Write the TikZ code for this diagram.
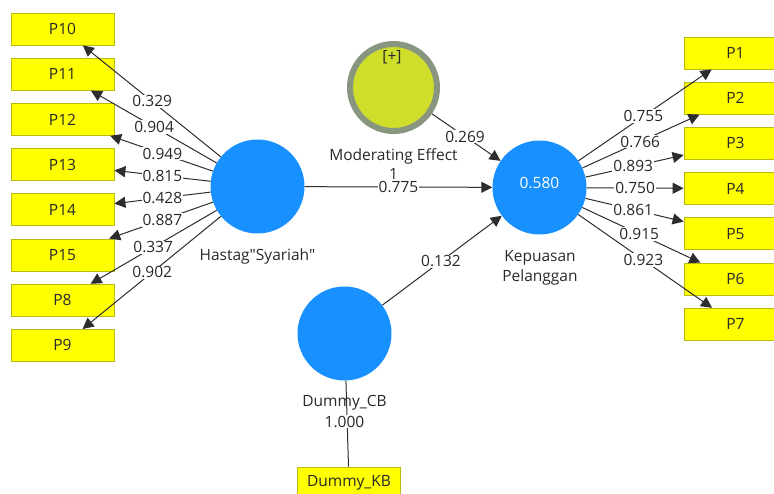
\documentclass[tikz,border=0pt]{standalone}
\usepackage{fontspec}
\setmainfont{Open Sans}[Ligatures=TeXOff]
\usetikzlibrary{arrows.meta,calc}
\definecolor{boxyellow}{RGB}{255,255,0}
\definecolor{boxborder}{RGB}{185,185,20}
\definecolor{lvblue}{RGB}{24,144,255}
\definecolor{modfill}{RGB}{206,222,43}
\definecolor{modring}{RGB}{136,150,128}
\definecolor{txt}{RGB}{40,40,40}
\definecolor{edgecol}{RGB}{45,45,45}
\begin{document}
\begin{tikzpicture}[x=1pt,y=-1pt,
  font=\fontsize{15.5}{20}\selectfont,
  ind/.style={rectangle, draw=boxborder, fill=boxyellow, line width=0.8pt,
    minimum width=103pt, minimum height=32pt, inner sep=0pt, text=txt},
  lv/.style={circle, fill=lvblue, minimum size=94pt, inner sep=0pt},
  modlv/.style={circle, fill=modfill, draw=modring, line width=6pt,
    minimum size=87pt, inner sep=0pt},
  arr/.style={draw=edgecol, line width=1pt, -{Triangle[length=11pt,width=11pt]}},
  plainline/.style={draw=edgecol, line width=1pt},
  lbl/.style={fill=white, inner sep=1pt, text=txt},
  captxt/.style={text=txt, align=center, inner sep=0pt}]
\useasboundingbox (0,0) rectangle (774,493);
\clip (0,0) rectangle (774,493);

% latent variables
\node[lv] (has) at (257.5,186.5) {};
\node[lv] (kep) at (539.5,187.5) {};
\node[lv] (dcb) at (344.5,333.5) {};
\node[modlv] (mod) at (393.5,87.5) {};

% left indicators
\node[ind] (p10) at (62.5,29) {P10};
\node[ind] (p11) at (62.5,74.2) {P11};
\node[ind] (p12) at (62.5,119.4) {P12};
\node[ind] (p13) at (62.5,164.6) {P13};
\node[ind] (p14) at (62.5,209.8) {P14};
\node[ind] (p15) at (62.5,255) {P15};
\node[ind] (p8) at (62.5,300.2) {P8};
\node[ind] (p9) at (62.5,345.4) {P9};

% right indicators
\node[ind] (p1) at (735.5,53) {P1};
\node[ind] (p2) at (735.5,98.2) {P2};
\node[ind] (p3) at (735.5,143.4) {P3};
\node[ind] (p4) at (735.5,188.6) {P4};
\node[ind] (p5) at (735.5,233.8) {P5};
\node[ind] (p6) at (735.5,279) {P6};
\node[ind] (p7) at (735.5,324.2) {P7};

% dummy indicator
\node[ind] (dkb) at (349,483) {Dummy\_KB};

% edges
\foreach \t in {p10,p11,p12,p13,p14,p15,p8,p9} \draw[arr] (has) -- (\t);
\foreach \t in {p1,p2,p3,p4,p5,p6,p7} \draw[arr] (kep) -- (\t);
\draw[arr] (has) -- (kep);
\draw[arr] (mod) -- (kep);
\draw[arr] (dcb) -- (kep);
\draw[plainline] (dcb) -- (dkb);

% edge labels
\node[lbl] at ($(has)!0.54!(p10)$) {0.329};
\node[lbl] at ($(has)!0.53!(p11)$) {0.904};
\node[lbl] at ($(has)!0.488!(p12)$) {0.949};
\node[lbl] at ($(has)!0.488!(p13)$) {0.815};
\node[lbl] at ($(has)!0.488!(p14)$) {0.428};
\node[lbl] at ($(has)!0.488!(p15)$) {0.887};
\node[lbl] at ($(has)!0.535!(p8)$) {0.337};
\node[lbl] at ($(has)!0.54!(p9)$) {0.902};

\node[lbl] at ($(kep)!0.53!(p1)$) {0.755};
\node[lbl] at ($(kep)!0.514!(p2)$) {0.766};
\node[lbl] at ($(kep)!0.478!(p3)$) {0.893};
\node[lbl] at ($(kep)!0.488!(p4)$) {0.750};
\node[lbl] at ($(kep)!0.478!(p5)$) {0.861};
\node[lbl] at ($(kep)!0.509!(p6)$) {0.915};
\node[lbl] at ($(kep)!0.53!(p7)$) {0.923};

\node[lbl] at ($(has)!0.5!(kep)$) {0.775};
\node[lbl] at ($(mod)!0.49!(kep)$) {0.269};
\node[lbl] at ($(dcb)!0.495!(kep)$) {0.132};

% captions
\node[text=txt, inner sep=0pt] (modplus) at (392,57) {[+]};
\node[captxt] (modcap) at (393.5,156.5) {Moderating Effect};
\node[captxt] (modcap1) at (393.5,174) {1};
\node[captxt] (hascap) at (257.5,256) {Hastag"Syariah"};
\node[captxt] (kepcap) at (540,267.5) {Kepuasan\\Pelanggan};
\node[text=white] (kepval) at (539.5,183) {0.580};
\node[captxt] (dcbcap) at (344.5,403) {Dummy\_CB};
\node[lbl] (dcbval) at (344.5,421.5) {1.000};
\end{tikzpicture}
\end{document}
